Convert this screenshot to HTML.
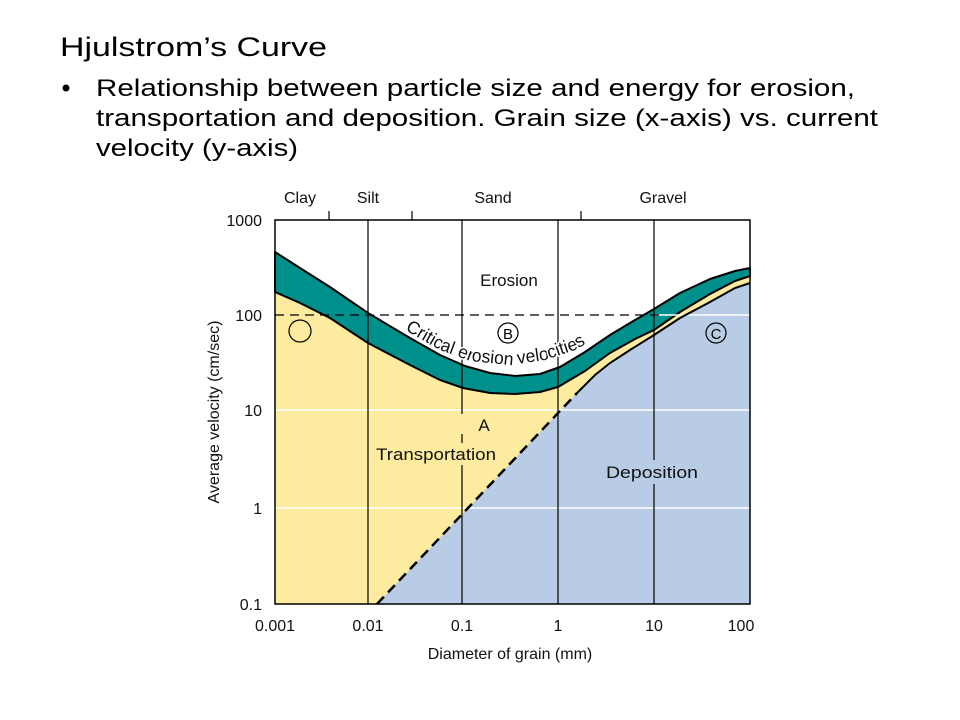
<!DOCTYPE html>
<html><head><meta charset="utf-8"><style>
html,body{margin:0;padding:0;background:#fff;}
svg{display:block;}
</style></head><body>
<svg width="960" height="720" viewBox="0 0 960 720" xmlns="http://www.w3.org/2000/svg" font-family="Liberation Sans, sans-serif">
<rect width="960" height="720" fill="#fff"/>
<text x="60" y="56" font-size="27" fill="#000" textLength="267" lengthAdjust="spacingAndGlyphs">Hjulstrom’s Curve</text>
<circle cx="66" cy="88" r="3.5" fill="#000"/>
<text x="96" y="96" font-size="24" textLength="759" lengthAdjust="spacingAndGlyphs">Relationship between particle size and energy for erosion,</text>
<text x="96" y="126" font-size="24" textLength="782" lengthAdjust="spacingAndGlyphs">transportation and deposition.  Grain size (x-axis) vs. current</text>
<text x="96" y="156" font-size="24" textLength="202" lengthAdjust="spacingAndGlyphs">velocity (y-axis)</text>

<rect x="275" y="220" width="475" height="384" fill="#fdeca0"/>
<path d="M275,220 L275,252 L300,268 L330,287 L368,313 L410,338 L440,355 L465,366 L490,373 L515,376 L540,374 L560,367 L585,352 L610,335 L635,320 L654,309 L680,293 L710,279 L735,271 L750,268 L750,220 Z" fill="#fff"/>
<path d="M275,252 L300,268 L330,287 L368,313 L410,338 L440,355 L465,366 L490,373 L515,376 L540,374 L560,367 L585,352 L610,335 L635,320 L654,309 L680,293 L710,279 L735,271 L750,268 L750,276 L735,281 L710,294 L680,312 L654,330 L635,339 L610,353 L585,371 L558,387 L540,392 L515,394 L490,393 L463,388 L440,380 L410,365 L368,343 L330,318 L300,303 L275,292 Z" fill="#00908c" stroke="#000" stroke-width="2" stroke-linejoin="round"/>
<path d="M377,604 L577,393 L595,375 L610,363 L630,350 L654,335 L680,318 L710,302 L735,288 L750,283 L750,604 Z" fill="#b9cce6"/>
<g stroke="#fff" stroke-width="1.5">
<line x1="275" y1="410" x2="750" y2="410"/>
<line x1="275" y1="508" x2="750" y2="508"/>
<line x1="655" y1="315" x2="750" y2="315"/>
</g>
<path d="M577,393 L595,375 L610,363 L630,350 L654,335 L680,318 L710,302 L735,288 L750,283" fill="none" stroke="#000" stroke-width="2"/>
<line x1="377" y1="604" x2="577" y2="393" stroke="#000" stroke-width="2.5" stroke-dasharray="10,6"/>
<line x1="275" y1="315" x2="660" y2="315" stroke="#000" stroke-width="1.2" stroke-dasharray="9,6"/>
<g stroke="#000" stroke-width="1.2">
<line x1="368" y1="220" x2="368" y2="604"/>
<line x1="462" y1="220" x2="462" y2="604"/>
<line x1="558" y1="220" x2="558" y2="604"/>
<line x1="654" y1="220" x2="654" y2="604"/>
<line x1="329" y1="211" x2="329" y2="220"/>
<line x1="412" y1="211" x2="412" y2="220"/>
<line x1="581" y1="211" x2="581" y2="220"/>
</g>
<rect x="275" y="220" width="475" height="384" fill="none" stroke="#000" stroke-width="1.5"/>

<g font-size="17" fill="#111">
<rect x="472" y="267" width="74" height="24" fill="#fff"/>
<text x="509" y="286" text-anchor="middle">Erosion</text>
<rect x="448" y="414" width="26" height="20" fill="#fdeca0"/>
<text x="484" y="431" text-anchor="middle">A</text>
<rect x="374" y="443" width="124" height="22" fill="#fdeca0"/>
<text x="436" y="460" text-anchor="middle" textLength="120" lengthAdjust="spacingAndGlyphs">Transportation</text>
<rect x="604" y="460" width="96" height="24" fill="#b9cce6"/>
<text x="652" y="478" text-anchor="middle" textLength="92" lengthAdjust="spacingAndGlyphs">Deposition</text>
</g>
<circle cx="300" cy="331" r="11" fill="none" stroke="#000" stroke-width="1.2"/>
<circle cx="508" cy="333" r="10" fill="#fff" stroke="#000" stroke-width="1.2"/>
<text x="508" y="339" font-size="15" text-anchor="middle">B</text>
<circle cx="716" cy="333" r="10" fill="none" stroke="#000" stroke-width="1.2"/>
<text x="716" y="339" font-size="15" text-anchor="middle">C</text>
<path id="cev" d="M405,330 L440,350 L470,361 L510,365 L545,360 L575,350 L600,336" fill="none"/>
<text font-size="18" fill="#111" stroke="#fff" stroke-width="3" paint-order="stroke" stroke-linejoin="round"><textPath href="#cev" textLength="192" lengthAdjust="spacingAndGlyphs">Critical erosion velocities</textPath></text>

<g font-size="16" fill="#111">
<text x="300" y="203" text-anchor="middle">Clay</text>
<text x="368" y="203" text-anchor="middle">Silt</text>
<text x="493" y="203" text-anchor="middle">Sand</text>
<text x="663" y="203" text-anchor="middle">Gravel</text>
<text x="262" y="226" text-anchor="end">1000</text>
<text x="262" y="321" text-anchor="end">100</text>
<text x="262" y="416" text-anchor="end">10</text>
<text x="262" y="514" text-anchor="end">1</text>
<text x="262" y="610" text-anchor="end">0.1</text>
<text x="275" y="631" text-anchor="middle">0.001</text>
<text x="368" y="631" text-anchor="middle">0.01</text>
<text x="462" y="631" text-anchor="middle">0.1</text>
<text x="558" y="631" text-anchor="middle">1</text>
<text x="654" y="631" text-anchor="middle">10</text>
<text x="741" y="631" text-anchor="middle">100</text>
<text x="510" y="659" text-anchor="middle">Diameter of grain (mm)</text>
<text transform="translate(219,412) rotate(-90)" text-anchor="middle">Average velocity (cm/sec)</text>
</g>
</svg>
</body></html>
